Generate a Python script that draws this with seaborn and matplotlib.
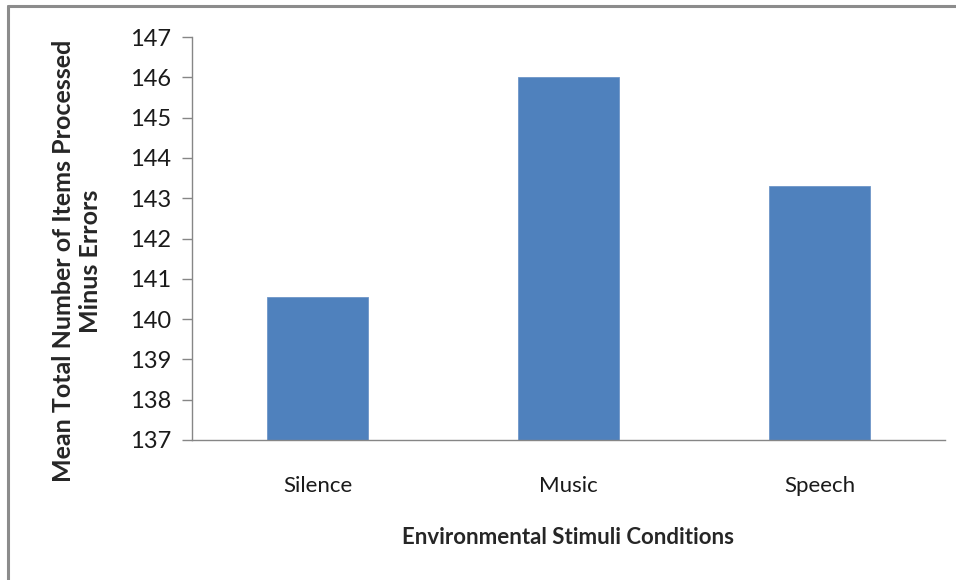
import matplotlib
matplotlib.use("Agg")
import matplotlib.pyplot as plt
import seaborn as sns
import pandas as pd
from matplotlib.lines import Line2D

conditions = ["Silence", "Music", "Speech"]
means = [140.56, 146.0, 143.3]
yticks = [137, 138, 139, 140, 141, 142, 143, 144, 145, 146, 147]

sns.set_style("white")
plt.rcParams['font.family'] = ['Lato', 'DejaVu Sans']

df = pd.DataFrame({"cond": conditions, "mean": means})

fig = plt.figure(figsize=(9.56, 5.8), dpi=100)
ax = fig.add_axes([192/956, 1-440/580, (945-192)/956, (440-37)/580])

sns.barplot(data=df, x="cond", y="mean", color="#4F81BD", width=0.4,
            saturation=1, ax=ax, edgecolor="#6F96C8", linewidth=0.6)

ax.set_ylim(137, 147)
ax.set_yticks(yticks)
ax.set_yticklabels([str(t) for t in yticks])
ax.set_xlim(-0.5, 2.5)
ax.set_xticks([-0.5, 0.5, 1.5, 2.5], minor=True)
ax.tick_params(axis='x', which='major', length=0, pad=26, labelsize=16, labelcolor="#1a1a1a")
ax.tick_params(axis='x', which='minor', length=7, width=1, color="#868686", direction='out')
ax.tick_params(axis='y', which='major', length=7, width=1, color="#868686", direction='out',
               left=True, pad=8, labelsize=17, labelcolor="#1a1a1a")

for s in ["top", "right"]:
    ax.spines[s].set_visible(False)
for s in ["left", "bottom"]:
    ax.spines[s].set_color("#868686")
    ax.spines[s].set_linewidth(1)

ax.set_xlabel("Environmental Stimuli Conditions", fontsize=16, fontweight='bold', labelpad=22)
ax.set_ylabel("Mean Total Number of Items Processed\nMinus Errors", fontsize=18,
              fontweight='bold', linespacing=1.2)
ax.yaxis.set_label_coords(-0.12, 0.444)

# figure frame (left and top edges visible)
fig.add_artist(Line2D([8/956, 8/956], [0, 1-6/580], transform=fig.transFigure,
                      color="#8c8c8c", linewidth=2.2))
fig.add_artist(Line2D([8/956, 1], [1-6/580, 1-6/580], transform=fig.transFigure,
                      color="#8c8c8c", linewidth=2.2))

fig.savefig("out.png", dpi=100)
